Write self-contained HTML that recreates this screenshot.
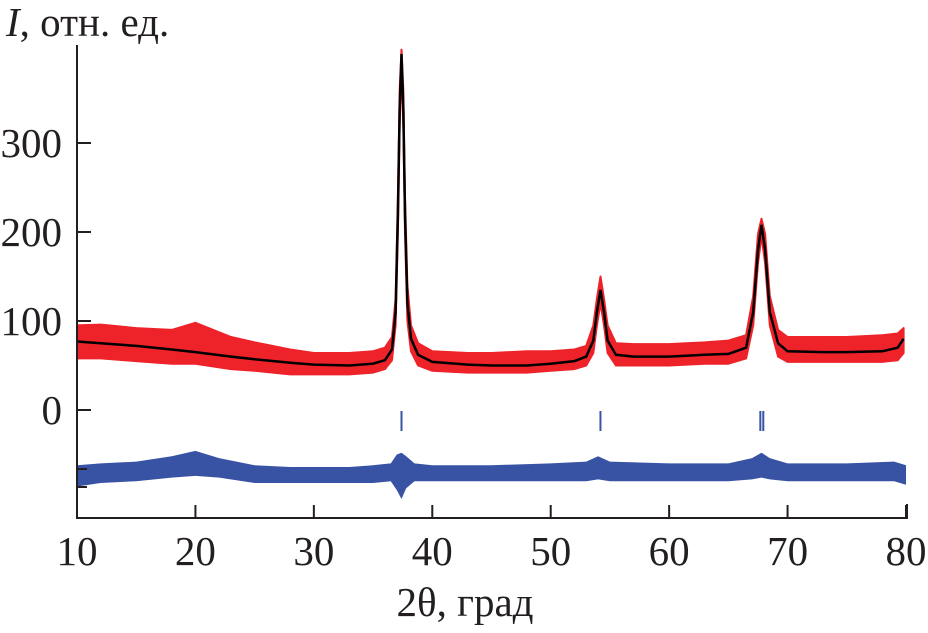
<!DOCTYPE html>
<html><head><meta charset="utf-8"><style>
body{margin:0;background:#fff}
text{font-family:"Liberation Serif","Times New Roman",serif;fill:#231f20}
</style></head><body>
<svg id="chart" width="928" height="628" viewBox="0 0 928 628" xmlns="http://www.w3.org/2000/svg">
<g id="plot"></g>
<g id="axes"></g>
</svg>
<script>
const xTicks=[10,20,30,40,50,60,70,80];
const yTicks=[0,100,200,300];
const calcX=[10,12,15,18,20,23,25,28,30,33,35,36,36.6,36.9,37.1,37.25,37.4,37.55,37.7,37.9,38.2,38.8,40,43,45,48,50,52,53,53.6,53.9,54.2,54.5,54.8,55.5,57,60,63,65,66.5,67.1,67.5,67.8,68.1,68.5,69.2,70,73,75,78,79.3,79.8];
const calcY=[77,75,72,68,65,60,57,53,51,50,52,56,68,110,220,340,400,340,220,120,80,62,54,51,50,50,52,55,60,78,110,135,110,78,62,60,60,62,63,70,110,180,208,180,110,75,66,65,65,66,70,80];
const obsLow=[58,58,55,52,52,46,44,40,40,40,42,46,56,95,200,320,385,320,200,100,66,50,44,42,42,42,44,46,50,64,95,120,95,64,50,50,50,52,52,58,95,165,195,165,95,60,54,54,54,54,56,64];
const obsHigh=[95,96,92,90,98,82,76,68,64,64,66,70,82,125,240,360,405,360,240,140,95,75,66,64,64,66,66,68,72,95,125,150,125,95,75,74,74,76,78,84,128,198,215,198,128,90,82,82,82,84,86,92];
const diffX=[10,12,15,18,20,22,25,28,30,33,35,36.5,37,37.4,37.8,38.5,40,45,50,53,54,55,60,65,67,67.8,68.5,70,75,79,80];
const diffLow=[-86,-82,-80,-76,-74,-76,-82,-82,-82,-82,-82,-80,-90,-100,-88,-80,-80,-80,-80,-80,-78,-80,-80,-80,-78,-76,-78,-80,-80,-80,-84];
const diffHigh=[-62,-60,-58,-52,-46,-54,-62,-64,-64,-64,-62,-60,-50,-48,-52,-60,-62,-62,-60,-58,-52,-58,-60,-60,-54,-48,-54,-60,-60,-58,-62];
const bragg=[37.4,54.2,67.7,67.95];

const X0=77,X1=906,Y0=410,YS=0.89;
const sx=v=>X0+(v-10)*(X1-X0)/70;
const sy=v=>Y0-v*YS;
const NS='http://www.w3.org/2000/svg';
const plot=document.getElementById('plot'),axes=document.getElementById('axes');
function mk(t,a,p){const e=document.createElementNS(NS,t);for(const k in a)e.setAttribute(k,a[k]);p.appendChild(e);return e;}
function band(xs,lo,hi){let d='M'+xs.map((x,i)=>sx(x).toFixed(1)+','+sy(hi[i]).toFixed(1)).join('L');
for(let i=xs.length-1;i>=0;i--)d+='L'+sx(xs[i]).toFixed(1)+','+sy(lo[i]).toFixed(1);return d+'Z';}
let e;
e=mk('path',{d:band(calcX,obsLow,obsHigh),fill:'#ee2229',stroke:'#ee2229','stroke-width':2,'stroke-linejoin':'round'},plot);


e=mk('path',{d:'M'+calcX.map((x,i)=>sx(x).toFixed(1)+','+sy(calcY[i]).toFixed(1)).join('L'),fill:'none',stroke:'#000','stroke-width':2.5},plot);


e=mk('path',{d:band(diffX,diffLow,diffHigh),fill:'#3953a4'},plot);


bragg.forEach(b=>{e=mk('line',{x1:sx(b),x2:sx(b),y1:411,y2:431,stroke:'#3953a4','stroke-width':2},plot);

});
const ax='#231f20',FF='"Liberation Serif","Times New Roman",serif';
e=mk('path',{d:`M${X0},45V518H${X1+1}V504`,fill:'none',stroke:ax,'stroke-width':2},axes);


xTicks.forEach(v=>{mk('line',{x1:sx(v),x2:sx(v),y1:518,y2:505,stroke:ax,'stroke-width':2},axes);
e=mk('text',{x:sx(v),y:565,'font-size':41,'font-family':FF,'text-anchor':'middle'},axes);e.textContent=v;

});
yTicks.forEach(v=>{mk('line',{x1:X0,x2:X0+14,y1:sy(v),y2:sy(v),stroke:ax,'stroke-width':2},axes);
e=mk('text',{x:62,y:sy(v)+14,'font-size':41,'font-family':FF,'text-anchor':'end'},axes);e.textContent=v;

});
mk('line',{x1:X0,x2:X0+10,y1:469,y2:469,stroke:ax,'stroke-width':2},axes);
mk('line',{x1:X0,x2:X0+10,y1:487,y2:487,stroke:ax,'stroke-width':2},axes);
e=mk('text',{x:465,y:616,'font-size':41,'font-family':FF,'text-anchor':'middle'},axes);e.textContent='2θ, град';


e=mk('text',{x:6,y:36,'font-size':41,'font-family':FF},axes);e.innerHTML='<tspan font-style="italic">I</tspan>, отн. ед.';


</script>
</body></html>
